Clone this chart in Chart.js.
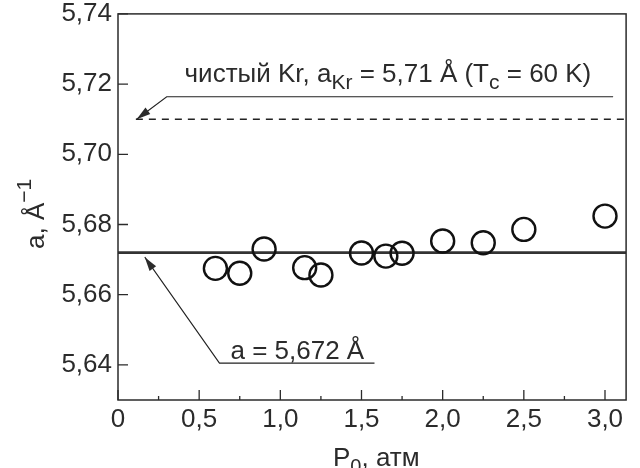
<!DOCTYPE html>
<html lang="ru">
<head>
<meta charset="UTF-8">
<title>Параметр решётки a(P0)</title>
<script src="https://cdn.jsdelivr.net/npm/chart.js"></script>
<style>
  html, body { margin: 0; padding: 0; background: #fff; }
  #wrap { width: 640px; height: 468px; }
</style>
</head>
<body>
<div id="wrap"><canvas id="latticeChart"></canvas></div>
<script>
  // давление P0, атм
  const pressure = [0.6, 0.75, 0.9, 1.15, 1.25, 1.5, 1.65, 1.75, 2.0, 2.25, 2.5, 3.0];
  // параметр решётки a, Å
  const lattice = [5.6675, 5.6661, 5.6730, 5.6677, 5.6656, 5.6719, 5.6710, 5.6718, 5.6753, 5.6748, 5.6786, 5.6824];

  const meanA = 5.672;   // сплошная линия
  const pureKr = 5.71;   // пунктир, чистый Kr
  const meanLineX = [0, 3.13];
  const pureLineX = [0.11, 3.13];

  const xTicks = [0, 0.5, 1.0, 1.5, 2.0, 2.5, 3.0];
  const xMinorTicks = [0.25, 0.75, 1.25, 1.75, 2.25, 2.75];
  const yTicks = [5.64, 5.66, 5.68, 5.70, 5.72, 5.74];

  // выноски: остриё, излом, конец полки
  const pureLeaderX = [0.115, 0.30, 3.05];
  const pureLeaderY = [5.7100, 5.7164, 5.7164];
  const meanLeaderX = [0.165, 0.625, 1.58];
  const meanLeaderY = [5.6707, 5.6405, 5.6405];

  const FONT = "'Liberation Sans', Arial, sans-serif";
  const INK = '#2b2b2b';

  const toPts = (xs, ys) => xs.map((x, i) => ({ x: x, y: ys[i] }));
  const comma = (v, d) => v.toFixed(d).replace('.', ',');

  // текст с индексами: [текст, сдвиг по y, размер]
  function drawRuns(c, x, y, runs) {
    runs.forEach(([t, dy, size]) => {
      c.font = size + 'px ' + FONT;
      c.fillText(t, x, y + dy);
      x += c.measureText(t).width;
    });
  }

  function arrowHead(c, tip, from, len, half) {
    const ang = Math.atan2(tip.y - from.y, tip.x - from.x);
    c.beginPath();
    c.moveTo(tip.x, tip.y);
    c.lineTo(tip.x - len * Math.cos(ang) + half * Math.sin(ang), tip.y - len * Math.sin(ang) - half * Math.cos(ang));
    c.lineTo(tip.x - len * Math.cos(ang) - half * Math.sin(ang), tip.y - len * Math.sin(ang) + half * Math.cos(ang));
    c.closePath();
    c.fill();
  }

  const decorPlugin = {
    id: 'decor',
    afterDraw(chart) {
      const c = chart.ctx;
      const a = chart.chartArea;
      const xs = chart.scales.x, ys = chart.scales.y;
      c.save();
      c.strokeStyle = INK;
      c.fillStyle = INK;

      // рамка
      c.lineWidth = 1.5;
      c.strokeRect(a.left, a.top, a.right - a.left, a.bottom - a.top);

      // засечки внутрь
      c.lineWidth = 1.3;
      c.beginPath();
      xTicks.forEach(v => { const p = xs.getPixelForValue(v); c.moveTo(p, a.bottom); c.lineTo(p, a.bottom - 10); });
      xMinorTicks.forEach(v => { const p = xs.getPixelForValue(v); c.moveTo(p, a.bottom); c.lineTo(p, a.bottom - 4); });
      yTicks.forEach(v => { const p = ys.getPixelForValue(v); c.moveTo(a.left, p); c.lineTo(a.left + 10, p); });
      c.stroke();

      // стрелки выносок
      [[pureLeaderX, pureLeaderY], [meanLeaderX, meanLeaderY]].forEach(([lx, ly]) => {
        const tip = { x: xs.getPixelForValue(lx[0]), y: ys.getPixelForValue(ly[0]) };
        const from = { x: xs.getPixelForValue(lx[1]), y: ys.getPixelForValue(ly[1]) };
        arrowHead(c, tip, from, 14, 4);
      });

      // подписи
      c.textBaseline = 'alphabetic';
      c.textAlign = 'left';
      drawRuns(c, xs.getPixelForValue(0.41), ys.getPixelForValue(5.7207), [
        ['чистый Kr, a', 0, 26], ['Kr', 7, 21], [' = 5,71 Å (T', 0, 26], ['c', 7, 21], [' = 60 K)', 0, 26]
      ]);
      drawRuns(c, xs.getPixelForValue(0.693), ys.getPixelForValue(5.6417), [['a = 5,672 Å', 0, 26]]);

      // подпись оси X
      drawRuns(c, 333, 466, [['P', 0, 26], ['0', 7, 20], [', атм', 0, 26]]);

      // подпись оси Y
      c.translate(44, 249);
      c.rotate(-Math.PI / 2);
      drawRuns(c, 0, 0, [['a, Å', 0, 26], ['−1', -13, 21]]);
      c.restore();
    }
  };

  const ctx = document.getElementById('latticeChart').getContext('2d');
  const latticeChart = new Chart(ctx, {
    type: 'scatter',
    data: {
      datasets: [
        {
          label: 'a(P0)',
          data: toPts(pressure, lattice),
          pointRadius: 11.5,
          pointBorderWidth: 2.4,
          pointBorderColor: '#111',
          pointBackgroundColor: 'rgba(0,0,0,0)',
          showLine: false
        },
        {
          label: 'a = 5,672',
          data: toPts(meanLineX, [meanA, meanA]),
          showLine: true,
          borderColor: '#333',
          borderWidth: 2.6,
          pointRadius: 0
        },
        {
          label: 'Kr',
          data: toPts(pureLineX, [pureKr, pureKr]),
          showLine: true,
          borderColor: '#222',
          borderWidth: 1.6,
          borderDash: [7, 6],
          pointRadius: 0
        },
        {
          label: 'leader Kr',
          data: toPts(pureLeaderX, pureLeaderY),
          showLine: true,
          borderColor: '#222',
          borderWidth: 1.1,
          pointRadius: 0
        },
        {
          label: 'leader a',
          data: toPts(meanLeaderX, meanLeaderY),
          showLine: true,
          borderColor: '#222',
          borderWidth: 1.1,
          pointRadius: 0
        }
      ]
    },
    options: {
      responsive: true,
      maintainAspectRatio: false,
      animation: false,
      layout: { padding: { top: 13, right: 12, left: 0, bottom: 0 } },
      plugins: { legend: { display: false }, tooltip: { enabled: false } },
      scales: {
        x: {
          type: 'linear',
          min: 0,
          max: 3.13,
          grid: { display: false, drawTicks: false },
          border: { display: false },
          afterBuildTicks: s => { s.ticks = xTicks.map(v => ({ value: v })); },
          afterFit: s => { s.height = 68; s.paddingLeft = 0; s.paddingRight = 0; },
          ticks: {
            padding: 7,
            maxRotation: 0,
            color: INK,
            font: { family: FONT, size: 26, lineHeight: 1.0 },
            callback: v => v === 0 ? '0' : comma(v, 1)
          }
        },
        y: {
          type: 'linear',
          min: 5.63,
          max: 5.74,
          grid: { display: false, drawTicks: false },
          border: { display: false },
          afterBuildTicks: s => { s.ticks = yTicks.map(v => ({ value: v })); },
          afterFit: s => { s.width = 118; s.paddingTop = 0; s.paddingBottom = 0; },
          ticks: {
            padding: 6,
            color: INK,
            font: { family: FONT, size: 26, lineHeight: 1.0 },
            callback: v => comma(v, 2)
          }
        }
      }
    },
    plugins: [decorPlugin]
  });
</script>
</body>
</html>
